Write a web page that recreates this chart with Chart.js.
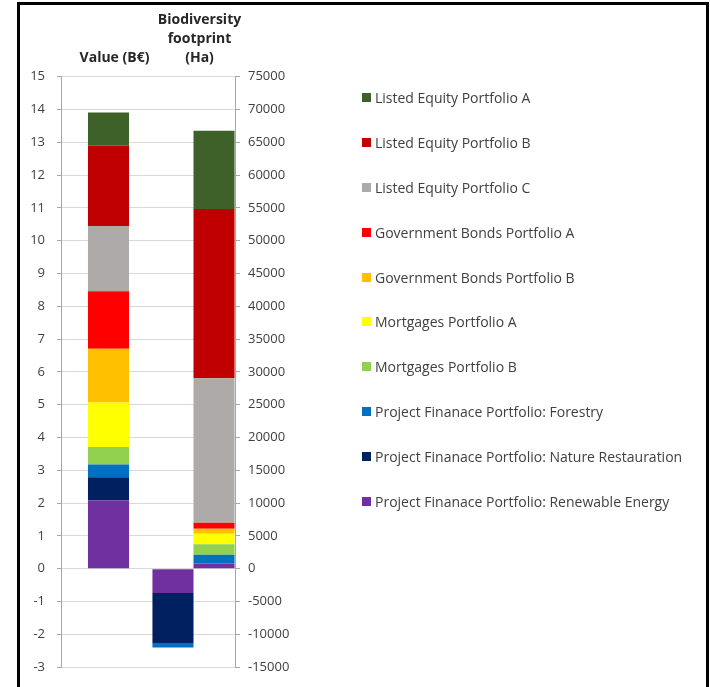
<!DOCTYPE html>
<html>
<head>
<meta charset="utf-8">
<script src="https://cdn.jsdelivr.net/npm/chart.js@4/dist/chart.umd.min.js"></script>
<style>
  html, body { margin: 0; padding: 0; background: #fff; overflow: hidden; }
  #frame { position: absolute; left: 17px; top: 2px; width: 686px; height: 720px; border: 3px solid #000; z-index: 0; }
  #chart { position: absolute; left: 0; top: 0; z-index: 1; }
  #legend { position: absolute; left: 362px; top: 75px; margin: 0; padding: 0; list-style: none;
            font-family: 'Open Sans', sans-serif; font-size: 14px; color: #404040; z-index: 2; }
  #legend li { height: 44.9px; display: flex; align-items: center; white-space: nowrap; }
  #legend .box { width: 9px; height: 9px; margin-right: 4px; flex: none; }
</style>
</head>
<body>
<div id="frame"></div>
<canvas id="chart" width="710" height="687"></canvas>
<ul id="legend"></ul>
<script>
// Categories along the top of the plot
const categoryLabels = ['Value (B€)', ['Biodiversity', 'footprint', '(Ha)']];

// Portfolio series, listed from top of the stack to the bottom
const seriesNames = [
  'Listed Equity Portfolio A',
  'Listed Equity Portfolio B',
  'Listed Equity Portfolio C',
  'Government Bonds Portfolio A',
  'Government Bonds Portfolio B',
  'Mortgages Portfolio A',
  'Mortgages Portfolio B',
  'Project Finanace Portfolio: Forestry',
  'Project Finanace Portfolio: Nature Restauration',
  'Project Finanace Portfolio: Renewable Energy'
];
const seriesColors = ['#3e6129', '#c00000', '#aeaaaa', '#ff0000', '#ffc000',
                      '#ffff00', '#92d050', '#0070c0', '#002060', '#7030a0'];

// Portfolio value, billion euro
const valueBn = [1.01, 2.45, 1.99, 1.75, 1.64, 1.36, 0.53, 0.39, 0.71, 2.08];
// Biodiversity footprint, hectares (positive and negative contributions)
const footprintPosHa = [11900, 25800, 22050, 900, 750, 1620, 1580, 1350, null, 800];
const footprintNegHa = [null, null, null, null, null, null, null, -700, -7600, -3700];

// Left value axis and right footprint axis ticks
const valueTicks = { min: -3, max: 15, step: 1 };
const footprintTicks = { min: -15000, max: 75000, step: 5000 };

// Stacks build from the bottom up, so walk the series in reverse
const order = seriesNames.map((_, i) => i).reverse();
const datasets = [];
order.forEach(i => datasets.push({
  label: seriesNames[i], stack: 'footprintNeg', yAxisID: 'y2',
  data: [null, footprintNegHa[i]], backgroundColor: seriesColors[i],
  barPercentage: 1, categoryPercentage: 0.966
}));
order.forEach(i => datasets.push({
  label: seriesNames[i], stack: 'value', yAxisID: 'y',
  data: [valueBn[i], null], backgroundColor: seriesColors[i],
  barPercentage: 0.5, categoryPercentage: 0.966
}));
order.forEach(i => datasets.push({
  label: seriesNames[i], stack: 'footprintPos', yAxisID: 'y2',
  data: [null, footprintPosHa[i]], backgroundColor: seriesColors[i],
  barPercentage: 1, categoryPercentage: 0.966
}));

const tickFont = { family: "'Open Sans', sans-serif", size: 13 };

// Narrow the category band a little on the left so the bars sit
// slightly right of the value axis
const categoryInset = {
  id: 'categoryInset',
  afterLayout(chart) {
    const x = chart.scales.x;
    x.left += 5;
    x.right += 1;
    x.width = x.right - x.left;
    x.configure();
  }
};

const chart = new Chart(document.getElementById('chart'), {
  type: 'bar',
  data: { labels: categoryLabels, datasets },
  plugins: [categoryInset],
  options: {
    responsive: false,
    animation: false,
    skipNull: true,
    layout: { padding: { left: 20, top: 2, right: 415, bottom: 15 } },
    plugins: { legend: { display: false }, tooltip: { enabled: false } },
    scales: {
      x: {
        position: 'top',
        grid: { display: false, drawTicks: false },
        border: { display: false },
        ticks: {
          font: { family: "'Open Sans', sans-serif", size: 14, weight: 'bold', lineHeight: 1.35 },
          color: '#262626', padding: 9, labelOffset: 6, maxRotation: 0, autoSkip: false
        }
      },
      y: {
        position: 'left', stacked: true,
        min: valueTicks.min, max: valueTicks.max,
        ticks: { stepSize: valueTicks.step, font: tickFont, color: '#404040', padding: 12 },
        grid: { color: '#d9d9d9', tickColor: '#a6a6a6', tickLength: 4 },
        border: { color: '#a6a6a6' },
        afterFit(scale) { scale.width = 41; }
      },
      y2: {
        position: 'right', stacked: true,
        min: footprintTicks.min, max: footprintTicks.max,
        ticks: {
          stepSize: footprintTicks.step, font: tickFont, color: '#404040', padding: 8,
          callback: v => String(v)
        },
        grid: { drawOnChartArea: false, tickColor: '#a6a6a6', tickLength: 5 },
        border: { color: '#a6a6a6' },
        afterFit(scale) { scale.width = 60; }
      }
    }
  }
});

// Legend list built from the value datasets, top series first
const legend = document.getElementById('legend');
chart.data.datasets.filter(d => d.stack === 'value').reverse().forEach(d => {
  const li = document.createElement('li');
  const box = document.createElement('span');
  box.className = 'box';
  box.style.background = d.backgroundColor;
  li.appendChild(box);
  li.appendChild(document.createTextNode(d.label));
  legend.appendChild(li);
});
</script>
</body>
</html>
